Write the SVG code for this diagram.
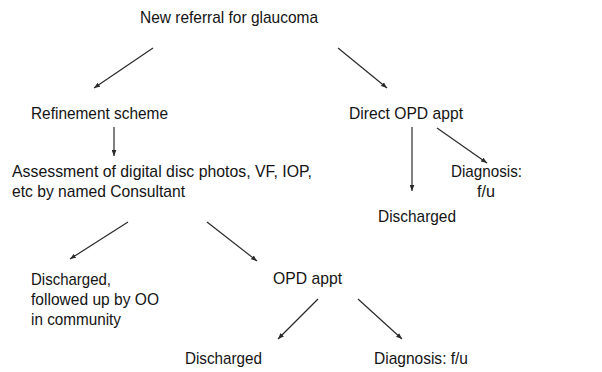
<svg xmlns="http://www.w3.org/2000/svg" width="602" height="372" viewBox="0 0 602 372">
<style>
text{font-family:"Liberation Sans",Arial,sans-serif;font-size:17px;fill:#141414}
.c line{stroke:#2a2a2a;stroke-width:1.2;marker-end:url(#ah)}
</style>
<defs>
<marker id="ah" viewBox="0 0 10 8" refX="10" refY="4" markerWidth="6" markerHeight="5" markerUnits="userSpaceOnUse" orient="auto">
<path d="M0,0L10,4L0,8z" fill="#2a2a2a"/>
</marker>
</defs>
<rect width="602" height="372" fill="#fff"/>
<g class="c" id="connectors">
<line x1="153" y1="48" x2="94" y2="88"/>
<line x1="338" y1="48" x2="387" y2="88"/>
<line x1="114" y1="127" x2="114" y2="156"/>
<line x1="412" y1="127" x2="412" y2="191"/>
<line x1="437" y1="128" x2="487" y2="163"/>
<line x1="128" y1="222" x2="70" y2="259"/>
<line x1="207" y1="222" x2="257" y2="261"/>
<line x1="318" y1="299" x2="278" y2="339"/>
<line x1="358" y1="299" x2="402" y2="339"/>
</g>
<g id="n-referral"><text x="140" y="23" textLength="178" lengthAdjust="spacingAndGlyphs">New referral for glaucoma</text></g>
<g id="n-refinement"><text x="31" y="119" textLength="137" lengthAdjust="spacingAndGlyphs">Refinement scheme</text></g>
<g id="n-direct"><text x="349" y="119" textLength="114" lengthAdjust="spacingAndGlyphs">Direct OPD appt</text></g>
<g id="n-assessment"><text x="12" y="177" textLength="300" lengthAdjust="spacingAndGlyphs">Assessment of digital disc photos, VF, IOP,</text><text x="12" y="197" textLength="173" lengthAdjust="spacingAndGlyphs">etc by named Consultant</text></g>
<g id="n-discharged1"><text x="378" y="222" textLength="78" lengthAdjust="spacingAndGlyphs">Discharged</text></g>
<g id="n-diagnosis1"><text x="451" y="177" textLength="71" lengthAdjust="spacingAndGlyphs">Diagnosis:</text><text x="477" y="197" textLength="18" lengthAdjust="spacingAndGlyphs">f/u</text></g>
<g id="n-community"><text x="31" y="285" textLength="80" lengthAdjust="spacingAndGlyphs">Discharged,</text><text x="31" y="305" textLength="128" lengthAdjust="spacingAndGlyphs">followed up by OO</text><text x="31" y="325" textLength="90" lengthAdjust="spacingAndGlyphs">in community</text></g>
<g id="n-opd"><text x="273" y="284" textLength="69" lengthAdjust="spacingAndGlyphs">OPD appt</text></g>
<g id="n-discharged2"><text x="185" y="364" textLength="77" lengthAdjust="spacingAndGlyphs">Discharged</text></g>
<g id="n-diagnosis2"><text x="374" y="364" textLength="94" lengthAdjust="spacingAndGlyphs">Diagnosis: f/u</text></g>
</svg>
